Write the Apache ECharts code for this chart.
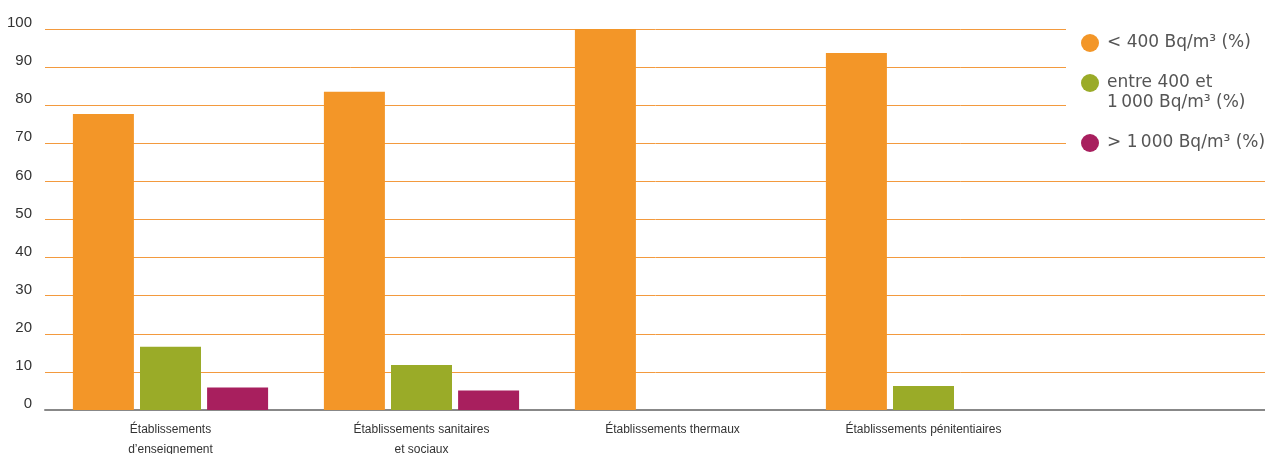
<!DOCTYPE html>
<html>
<head>
<meta charset="utf-8">
<script src="https://cdn.jsdelivr.net/npm/echarts@6/dist/echarts.min.js"></script>
<style>
html,body{margin:0;padding:0;background:#fff;}
#chart{width:1265px;height:454px;}
</style>
</head>
<body>
<div id="chart"></div>
<script>
var categories = ['Établissements\nd\u2019enseignement', 'Établissements sanitaires\net sociaux', 'Établissements thermaux', 'Établissements pénitentiaires'];
var seriesNames = ['< 400 Bq/m\u00b3 (%)', 'entre 400 et\n1\u2009000 Bq/m\u00b3 (%)', '> 1\u2009000 Bq/m\u00b3 (%)'];
var below400 = [77.7, 83.5, 100, 93.7];
var between400and1000 = [16.6, 11.8, null, 6.3];
var above1000 = [5.9, 5.1, null, null];
var yTicks = [0, 10, 20, 30, 40, 50, 60, 70, 80, 90, 100];

var colors = ['#f39628', '#9aab28', '#a81f5e'];
var chart = echarts.init(document.getElementById('chart'));

function bar(name, data, color) {
  return {
    name: name, type: 'bar', data: data, barWidth: 61, barGap: '10%',
    itemStyle: { color: color }, silent: true
  };
}

chart.setOption({
  animation: false,
  grid: { left: 45, top: 29, bottom: 44, width: 1255, outerBoundsMode: 'none', containLabel: false },
  legend: {
    orient: 'vertical', left: 1066, top: 0,
    padding: [33, 10, 6, 15],
    backgroundColor: '#ffffff',
    itemWidth: 18, itemHeight: 18, itemGap: 0,
    icon: 'circle',
    textStyle: { fontFamily: 'DejaVu Sans', fontSize: 17, color: '#555555', lineHeight: 20, padding: [0, 0, 0, 3] },
    formatter: function (name) {
      if (name === seriesNames[1]) return '\n' + name;
      if (name === seriesNames[2]) return '\n' + name + '\n';
      return name;
    },
    data: seriesNames,
    selectedMode: false
  },
  xAxis: {
    type: 'category', data: categories, max: 4,
    axisLine: { lineStyle: { color: '#888888', width: 2 } },
    axisTick: { show: false },
    axisLabel: {
      interval: 0, margin: 10, fontFamily: 'Liberation Sans', fontSize: 12,
      lineHeight: 20, color: '#333333'
    }
  },
  yAxis: {
    type: 'value', min: yTicks[0], max: yTicks[yTicks.length - 1], interval: yTicks[1] - yTicks[0],
    axisLine: { show: false }, axisTick: { show: false },
    splitLine: { lineStyle: { color: '#f39a3e', width: 1 } },
    axisLabel: {
      margin: 13, fontFamily: 'Liberation Sans', fontSize: 15, color: '#333333',
      verticalAlign: 'bottom', lineHeight: 12
    }
  },
  series: [
    bar(seriesNames[0], below400, colors[0]),
    bar(seriesNames[1], between400and1000, colors[1]),
    bar(seriesNames[2], above1000, colors[2])
  ]
});
</script>
</body>
</html>
